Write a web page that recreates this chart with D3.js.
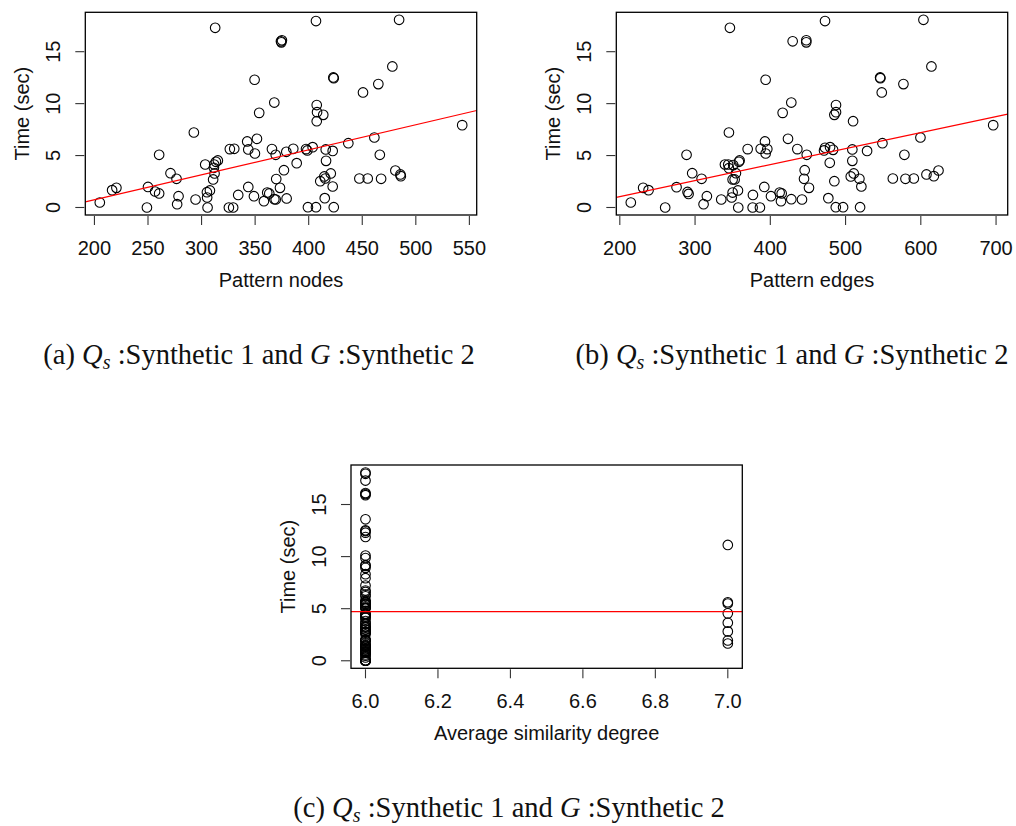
<!DOCTYPE html>
<html>
<head>
<meta charset="utf-8">
<script src="https://cdn.jsdelivr.net/npm/d3@7"></script>
<style>
  body { margin: 0; background: #fff; }
  svg { display: block; }
  .axis-text { font-family: "Liberation Sans", Arial, Helvetica, sans-serif; font-size: 20px; fill: #111; }
  .caption { font-family: "Liberation Serif", "Times New Roman", serif; font-size: 28.5px; fill: #111; }
</style>
</head>
<body>
<script>
// panel (a): pattern nodes vs time
const nodesPoints = [
  [205,0.48],[216.5,1.67],[220.5,1.89],[249,0],[250,1.98],[256.6,1.54],[260.4,1.35],[260.4,5.07],
  [271,3.3],[276.6,2.76],[278.5,1.09],[277.2,0.32],[292.8,7.22],[294.4,0.77],[303.4,4.14],[305,1.47],
  [307.8,1.64],[305.2,0.96],[305.6,0],[311.8,4.14],[313.4,4.4],[315.2,4.53],[311.5,3.82],[312.1,3.28],
  [310.8,2.7],[312.7,17.3],[325.5,0],[329.5,0],[326.4,5.62],[330.5,5.65],[334.2,1.21],[342.6,6.36],
  [343.6,5.59],[343.6,1.98],[349.8,5.2],[351.7,6.61],[348.9,1.09],[349.5,12.3],[353.8,9.11],[358.2,0.61],
  [361.3,1.44],[363.2,1.35],[365.7,5.62],[369.2,5.07],[367.9,10.1],[369.7,2.74],[367.9,0.8],[369.2,0.77],
  [373.2,1.89],[374.1,16.0],[375,16.1],[374.5,15.9],[376.9,3.59],[379.1,5.36],[379.4,0.87],[385.6,5.65],
  [388.8,4.27],[406.8,17.95],[484.4,18.07],[423,12.52],[423.4,12.45],[478.1,13.58],[465,11.88],[450.7,11.08],
  [407.5,9.86],[407.8,9.18],[413.6,8.92],[407.5,8.31],[543.3,7.93],[437,6.19],[461.3,6.74],[466.4,5.07],
  [397.5,5.62],[398.7,5.49],[403.7,5.81],[415.9,5.59],[422.4,5.45],[416.2,4.49],[420.6,3.28],[414.6,2.99],
  [415.5,2.79],[410.8,2.53],[422.4,2.02],[447.3,2.79],[455.1,2.79],[467.6,2.76],[480.9,3.56],[485.6,3.18],
  [486,3.02],[415,0.9],[399.3,0.03],[406.8,0.03],[423.4,0.03]
];
const nodesTicks = [200, 250, 300, 350, 400, 450, 500, 550];
const nodesFit = [-4.08, 0.0241]; // intercept, slope

// panel (b): pattern edges vs time
const edgesPoints = [
  [214.6,0.48],[231,1.89],[238.2,1.67],[260.3,0],[275.4,1.96],[288.7,5.07],[290,1.5],[291.4,1.31],
  [296.2,3.3],[308.7,2.76],[311.3,0.32],[315.7,1.09],[334.8,0.77],[345,7.22],[346.3,17.3],[339.7,4.14],
  [344.1,4.14],[345,3.79],[350.7,4.08],[354.3,3.3],[349.9,2.7],[352.6,2.7],[358.3,4.4],[359.2,4.53],
  [348.6,0.96],[349.9,1.44],[357,1.64],[357.4,0],[369.9,5.62],[376.9,1.21],[376.5,0],[386.2,0],
  [387.2,5.65],[392.9,6.36],[396,5.62],[393.8,5.2],[392,1.98],[393.8,12.3],[400.9,1.09],[412.4,1.44],
  [415.1,1.35],[414.2,0.61],[416.4,9.11],[423.5,6.61],[427.9,10.1],[427.9,0.8],[429.7,16.0],[435.9,5.62],
  [442.1,0.77],[447.8,16.1],[447.8,15.9],[448.4,5.07],[445.7,3.59],[444.8,2.76],[451.4,1.89],[472.7,17.95],
  [603.5,18.07],[545.9,12.52],[546.3,12.45],[614.1,13.58],[576.9,11.88],[548.1,11.08],[487.3,9.86],[487.3,9.18],
  [485.1,8.92],[510,8.31],[696.2,7.93],[549,6.19],[599.5,6.74],[578.2,5.07],[471.4,5.49],[472.7,5.75],
  [479.4,5.81],[483.4,5.55],[509,5.59],[528.6,5.45],[509,4.49],[479,4.3],[510.9,3.28],[506.9,2.99],
  [518.4,2.76],[485.1,2.53],[521,2.02],[562.8,2.79],[579.6,2.76],[590.7,2.79],[607.5,3.18],[617.3,3.02],
  [623.5,3.56],[477.1,0.9],[487,0.03],[496.7,0.03],[519.3,0.03]
];
const edgesTicks = [200, 300, 400, 500, 600, 700];
const edgesFit = [-2.05, 0.01544];

// panel (c): average similarity degree vs time
const degreeSixTimes = [
  18.07,17.95,17.3,16.1,16.0,15.9,13.58,12.52,12.45,12.3,11.88,10.1,9.86,9.18,9.11,8.92,8.31,7.93,
  7.22,6.74,6.61,6.36,6.19,5.81,5.65,5.65,5.62,5.59,5.49,5.45,5.36,5.2,5.07,5.07,5.07,4.53,4.49,4.4,
  4.27,4.14,4.14,3.82,3.59,3.56,3.3,3.28,3.18,3.02,2.99,2.79,2.79,2.76,2.76,2.74,2.7,2.53,2.02,1.98,
  1.98,1.89,1.67,1.54,1.47,1.44,1.35,1.35,1.21,1.09,1.09,0.96,0.9,0.87,0.8,0.77,0.77,0.61,0.48,0.32,
  0.03,0.03,0.03,0,0,0,0
];
const degreeSevenTimes = [11.12, 5.62, 5.5, 4.55, 3.65, 2.82, 1.95, 1.66];
const degreeTicks = [6.0, 6.2, 6.4, 6.6, 6.8, 7.0];
const degreeFit = [4.71, 0];

const timeTicks = [0, 5, 10, 15];

const width = 1016;
const height = 826;
const pointRadius = 4.8;

const svg = d3.select('body').append('svg')
  .attr('width', width)
  .attr('height', height);

// R style axis range: data extent padded 4% each side
function padded(extent) {
  const pad = (extent[1] - extent[0]) * 0.04;
  return [extent[0] - pad, extent[1] + pad];
}

function drawPanel(opts) {
  const {left, right, top, bottom, points, xTicks, xFormat, xTitle, fit} = opts;

  const scaleX = d3.scaleLinear()
    .domain(padded(d3.extent(points, d => d[0])))
    .range([left, right]);
  const scaleY = d3.scaleLinear()
    .domain(padded(d3.extent(points, d => d[1])))
    .range([bottom, top]);

  const $g = svg.append('g');

  // clip for the fitted line
  const clipId = 'clip-' + Math.round(left) + '-' + Math.round(top);
  $g.append('clipPath').attr('id', clipId)
    .append('rect')
    .attr('x', left).attr('y', top)
    .attr('width', right - left).attr('height', bottom - top);

  // x axis
  const xAxis = $g.append('g').attr('transform', `translate(0, ${bottom})`);
  xAxis.selectAll('line')
    .data(xTicks)
    .enter()
    .append('line')
    .attr('x1', d => scaleX(d)).attr('x2', d => scaleX(d))
    .attr('y1', 1).attr('y2', 10)
    .attr('stroke', '#333')
    .attr('stroke-width', 1.1);
  xAxis.selectAll('text')
    .data(xTicks)
    .enter()
    .append('text')
    .attr('class', 'axis-text')
    .attr('x', d => scaleX(d))
    .attr('y', 40)
    .attr('text-anchor', 'middle')
    .text(xFormat);

  $g.append('text')
    .attr('class', 'axis-text')
    .attr('x', (left + right) / 2)
    .attr('y', bottom + 72)
    .attr('text-anchor', 'middle')
    .text(xTitle);

  // y axis
  const yAxis = $g.append('g').attr('transform', `translate(${left}, 0)`);
  yAxis.selectAll('line')
    .data(timeTicks)
    .enter()
    .append('line')
    .attr('x1', -10).attr('x2', -1)
    .attr('y1', d => scaleY(d)).attr('y2', d => scaleY(d))
    .attr('stroke', '#333')
    .attr('stroke-width', 1.1);
  yAxis.selectAll('text')
    .data(timeTicks)
    .enter()
    .append('text')
    .attr('class', 'axis-text')
    .attr('transform', d => `translate(-25, ${scaleY(d)}) rotate(-90)`)
    .attr('text-anchor', 'middle')
    .text(d => d);

  $g.append('text')
    .attr('class', 'axis-text')
    .attr('transform', `translate(${left - 56}, ${(top + bottom) / 2}) rotate(-90)`)
    .attr('text-anchor', 'middle')
    .text('Time (sec)');

  // points
  $g.append('g')
    .selectAll('circle')
    .data(points)
    .enter()
    .append('circle')
    .attr('cx', d => scaleX(d[0]))
    .attr('cy', d => scaleY(d[1]))
    .attr('r', pointRadius)
    .attr('fill', 'none')
    .attr('stroke', '#000')
    .attr('stroke-width', 1.1);

  // fitted line
  const [x0, x1] = scaleX.domain();
  $g.append('line')
    .attr('clip-path', `url(#${clipId})`)
    .attr('x1', scaleX(x0)).attr('y1', scaleY(fit[0] + fit[1] * x0))
    .attr('x2', scaleX(x1)).attr('y2', scaleY(fit[0] + fit[1] * x1))
    .attr('stroke', '#ff0000')
    .attr('stroke-width', 1.2);

  // box
  $g.append('rect')
    .attr('x', left).attr('y', top)
    .attr('width', right - left).attr('height', bottom - top)
    .attr('fill', 'none')
    .attr('stroke', '#000')
    .attr('stroke-width', 1.3);
}

function drawCaption(cx, y, letter) {
  const t = svg.append('text')
    .attr('class', 'caption')
    .attr('x', cx)
    .attr('y', y)
    .attr('text-anchor', 'middle');
  t.append('tspan').text(`(${letter}) `);
  t.append('tspan').attr('font-style', 'italic').text('Q');
  t.append('tspan').attr('font-style', 'italic').attr('font-size', '20px').attr('dy', 5).text('s');
  t.append('tspan').attr('dy', -5).text('\u00a0:Synthetic 1 and ');
  t.append('tspan').attr('font-style', 'italic').text('G');
  t.append('tspan').text('\u00a0:Synthetic 2');
}

drawPanel({
  left: 85.3, right: 476.7, top: 12.3, bottom: 215,
  points: nodesPoints, xTicks: nodesTicks, xFormat: d => d,
  xTitle: 'Pattern nodes', fit: nodesFit
});

drawPanel({
  left: 616.3, right: 1007.7, top: 12.3, bottom: 215,
  points: edgesPoints, xTicks: edgesTicks, xFormat: d => d,
  xTitle: 'Pattern edges', fit: edgesFit
});

const degreePoints = degreeSixTimes.map(t => [6, t])
  .concat(degreeSevenTimes.map(t => [7, t]));

drawPanel({
  left: 351, right: 742.3, top: 465, bottom: 668.3,
  points: degreePoints, xTicks: degreeTicks, xFormat: d3.format('.1f'),
  xTitle: 'Average similarity degree', fit: degreeFit
});

drawCaption(259, 364, 'a');
drawCaption(792, 364, 'b');
drawCaption(509, 817, 'c');
</script>
</body>
</html>
